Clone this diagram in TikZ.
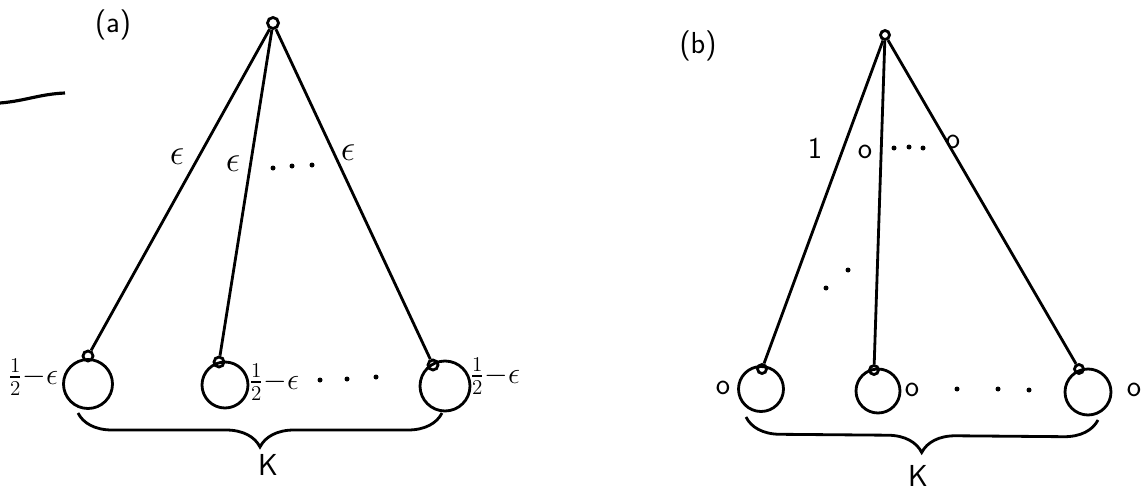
\documentclass[tikz,border=0pt]{standalone}
\usepackage{amsmath}
\usetikzlibrary{decorations.pathreplacing}
\begin{document}
\begin{tikzpicture}[x=0.02cm,y=-0.02cm,
  line width=1.6pt,
  hub/.style={circle,draw,inner sep=0pt,minimum size=0.22cm},
  knot/.style={circle,draw,inner sep=0pt,minimum size=0.2cm},
  bob/.style={circle,draw,inner sep=0pt,minimum size=#1},
  lbl/.style={inner sep=1pt,font=\LARGE\sffamily},
  elbl/.style={inner sep=1pt,font=\huge},
  slbl/.style={inner sep=1pt,font=\LARGE},
  dot/.style={circle,fill,inner sep=0pt,minimum size=0.1cm},
  kbrace/.style={decorate,decoration={brace,mirror,amplitude=0.68cm}}]
\useasboundingbox (0,0) rectangle (1142,490);

% ---------- (a) ----------
\node[lbl] (la) at (113,25) {(a)};
\draw[line width=1.8pt] (0,103) .. controls (25,101) and (40,94) .. (65,93);
\node[hub] (ta) at (273,23) {};
\node[bob=0.98cm] (b1) at (88,384) {};
\node[bob=0.92cm] (b2) at (225,385) {};
\node[bob=1.0cm] (b3) at (445,386) {};
\node[knot] (k1) at (88,356) {};
\node[knot] (k2) at (219,362) {};
\node[knot] (k3) at (433,365) {};
\draw (ta) -- (k1);
\draw (ta) -- (k2);
\draw (ta) -- (k3);
\node[elbl] (e1) at (177,157) {$\epsilon$};
\node[elbl] (e2) at (233,164) {$\epsilon$};
\node[elbl] (e3) at (348,153) {$\epsilon$};
\node[dot] (d1) at (273,168) {};
\node[dot] (d2) at (292,166) {};
\node[dot] (d3) at (312,165) {};
\node[slbl] (h1) at (33,377) {$\tfrac{1}{2}{-}\epsilon$};
\node[slbl] (h2) at (274,382) {$\tfrac{1}{2}{-}\epsilon$};
\node[slbl] (h3) at (495,376) {$\tfrac{1}{2}{-}\epsilon$};
\node[dot] (d4) at (320,380) {};
\node[dot] (d5) at (347,379) {};
\node[dot] (d6) at (376,377) {};
\coordinate (bra) at (78,413);
\coordinate (brb) at (442,413);
\draw[kbrace] (bra) -- (brb);
\node[lbl] (ka) at (268,465) {K};

% ---------- (b) ----------
\node[lbl] (lb) at (698,46) {(b)};
\node[hub,minimum size=0.18cm] (tb) at (885,35) {};
\node[bob=0.9cm] (c1) at (761,389) {};
\node[bob=0.88cm] (c2) at (878,391) {};
\node[bob=0.92cm] (c3) at (1088,392) {};
\node[knot,minimum size=0.18cm] (m1) at (762,369) {};
\node[knot,minimum size=0.18cm] (m2) at (874,370) {};
\node[knot,minimum size=0.18cm] (m3) at (1079,369) {};
\draw (tb) -- (m1);
\draw (tb) -- (m2);
\draw (tb) -- (m3);
\node[lbl] (o1) at (815,148) {1};
\node[lbl] (o2) at (865,152) {o};
\node[lbl] (o3) at (953,142) {o};
\node[dot] (d7) at (894,148) {};
\node[dot] (d8) at (909,147) {};
\node[dot] (d9) at (923,148) {};
\node[dot] (d10) at (848,270) {};
\node[dot] (d11) at (826,288) {};
\node[lbl] (o4) at (723,388) {o};
\node[lbl] (o5) at (912,390) {o};
\node[lbl] (o6) at (1134,390) {o};
\node[dot] (d12) at (957,389) {};
\node[dot] (d13) at (998,389) {};
\node[dot] (d14) at (1029,390) {};
\coordinate (brc) at (746,417);
\coordinate (brd) at (1098,420);
\draw[kbrace] (brc) -- (brd);
\node[lbl] (kb) at (918,476) {K};
\end{tikzpicture}
\end{document}
